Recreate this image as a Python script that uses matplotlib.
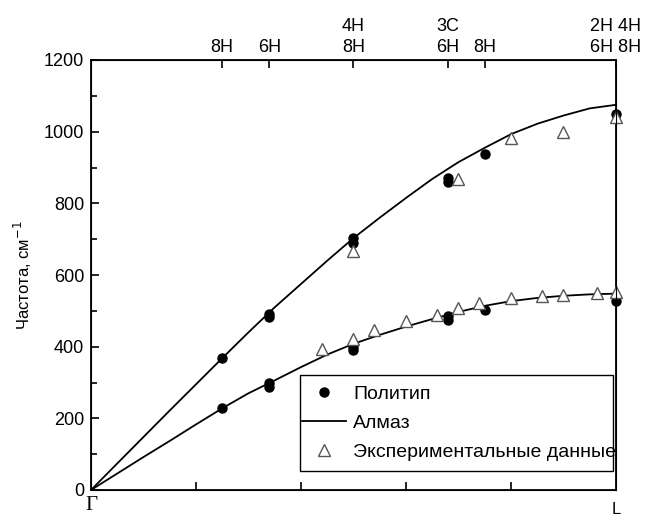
import matplotlib
matplotlib.use("Agg")
import matplotlib.pyplot as plt
from matplotlib.ticker import MultipleLocator
from matplotlib.patches import Rectangle

plt.rcParams['font.family'] = ['Liberation Sans', 'DejaVu Sans']

# Diamond model dispersion curves
q_curve = [0.0, 0.05, 0.1, 0.15, 0.2, 0.25, 0.3, 0.35, 0.4, 0.45, 0.5, 0.55,
           0.6, 0.65, 0.7, 0.75, 0.8, 0.85, 0.9, 0.95, 1.0]
upper_curve = [0, 74, 148, 222, 295, 368, 440, 510, 575, 640, 703, 760,
               815, 868, 915, 955, 993, 1022, 1045, 1065, 1075]
lower_curve = [0, 46, 92, 137, 183, 228, 270, 306, 343, 378, 408, 433,
               456, 477, 497, 514, 527, 536, 542, 546, 548]

# Polytype points (filled circles)
poly_q = [0.25, 0.34, 0.34, 0.5, 0.5, 0.68, 0.68, 0.75, 1.0,
          0.25, 0.34, 0.34, 0.5, 0.5, 0.68, 0.68, 0.75, 1.0]
poly_w = [368, 490, 482, 703, 690, 870, 860, 937, 1050,
          228, 300, 288, 400, 390, 486, 474, 502, 528]

# Experimental data (open triangles)
exp_q = [0.5, 0.70, 0.80, 0.90, 1.0,
         0.44, 0.5, 0.54, 0.6, 0.66, 0.70, 0.74, 0.80, 0.86, 0.90, 0.964, 1.0]
exp_w = [667, 867, 981, 1000, 1042,
         393, 422, 447, 472, 489, 507, 521, 535, 541, 544, 550, 552]

# Top axis: polytype positions
top_ticks = [0.25, 0.34, 0.5, 0.68, 0.75, 1.0]
top_labels = ['8H', '6H', '4H\n8H', '3C\n6H', '8H', '2H 4H\n6H 8H']

fig = plt.figure(figsize=(6.46, 5.2), dpi=100)
ax = fig.add_axes([91/646, 1-490/520, 525/646, 430/520])

ax.plot(q_curve, upper_curve, color='black', lw=1.3, label='Алмаз', zorder=2)
ax.plot(q_curve, lower_curve, color='black', lw=1.3, zorder=2)
ax.plot(poly_q, poly_w, 'o', color='black', ms=6.5, label='Политип', zorder=3,
        clip_on=False)
ax.plot(exp_q, exp_w, '^', mfc='white', mec='#555555', mew=1.0, ms=8,
        label='Экспериментальные данные', zorder=3, clip_on=False)

ax.set_xlim(0, 1)
ax.set_ylim(0, 1200)
ax.set_xticks([0.2, 0.4, 0.6, 0.8])
ax.set_xticklabels([])
ax.yaxis.set_major_locator(MultipleLocator(200))
ax.yaxis.set_minor_locator(MultipleLocator(100))
ax.tick_params(axis='both', which='major', direction='in', length=6, width=1.2,
               labelsize=13, pad=5)
ax.tick_params(axis='y', which='minor', direction='in', length=4, width=1.2)
for s in ax.spines.values():
    s.set_linewidth(1.3)

ax.set_ylabel('Частота, см$^{-1}$', fontsize=12, labelpad=7)

ax2 = ax.twiny()
ax2.set_xlim(0, 1)
ax2.set_xticks(top_ticks)
ax2.set_xticklabels(top_labels, fontsize=13, linespacing=1.3)
ax2.tick_params(axis='x', direction='in', length=6, width=1.2, pad=3)

ax.text(0.0, -0.015, 'Γ', transform=ax.transAxes, ha='center', va='top',
        fontsize=15, family=['Liberation Serif', 'DejaVu Serif'])
ax.text(1.0, -0.028, 'L', transform=ax.transAxes, ha='center', va='top',
        fontsize=12)

# legend frame
ax.add_patch(Rectangle((0.398, 0.044), 0.596, 0.223, transform=ax.transAxes,
                       facecolor='white', edgecolor='black', lw=1.0,
                       zorder=4, clip_on=False))

handles, labels = ax.get_legend_handles_labels()
order = [1, 0, 2]
leg = ax.legend([handles[i] for i in order], [labels[i] for i in order],
                loc='center left', bbox_to_anchor=(0.401, 0.1555),
                frameon=False, fontsize=14, borderaxespad=0,
                handlelength=2.3, handletextpad=0.35, borderpad=0,
                labelspacing=0.58)
leg.set_zorder(5)

fig.savefig('out.png', dpi=100)
